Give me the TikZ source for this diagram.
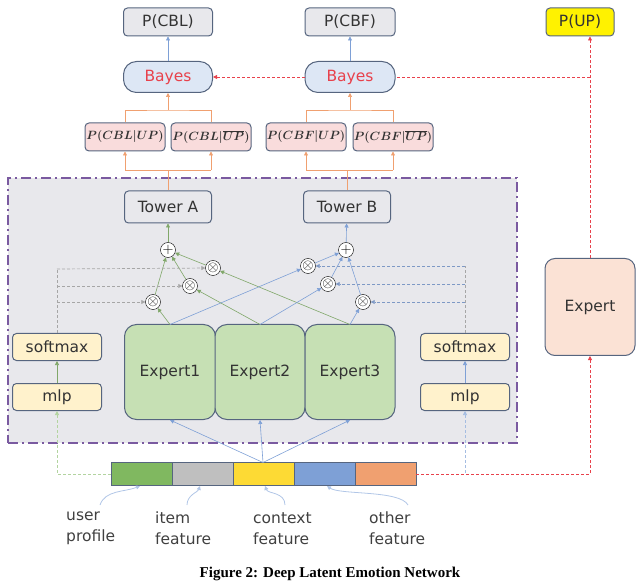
\documentclass[tikz,border=0pt]{standalone}
\usepackage{fontspec}
\setmainfont{Liberation Serif}
\newfontfamily\mysf{DejaVu Sans}
\usetikzlibrary{arrows.meta}
\definecolor{bx}{HTML}{E8E8EC}
\definecolor{bord}{HTML}{56657F}
\definecolor{bfill}{HTML}{DDE7F5}
\definecolor{rd}{HTML}{E8414B}
\definecolor{pk}{HTML}{F9DCDC}
\definecolor{og}{HTML}{F0A070}
\definecolor{gr}{HTML}{C6E0B4}
\definecolor{gl}{HTML}{80B860}
\definecolor{bl}{HTML}{7EA0D6}
\definecolor{ye}{HTML}{FFF2CC}
\definecolor{pe}{HTML}{FBE2D5}
\definecolor{pu}{HTML}{7A5AA0}
\begin{document}
\begin{tikzpicture}[x=1pt,y=-1pt,
 box/.style={draw=bord,line width=1pt,rounded corners=4pt,minimum height=28pt,font=\mysf\fontsize{15.5}{15.5}\selectfont,inner sep=0,text=black!80},
 cond/.style={box,fill=pk,minimum width=80pt,font=\fontsize{12}{12}\selectfont\boldmath},
 ot/.style={circle,draw=black,fill=white,inner sep=0,minimum size=15pt,font=\fontsize{14}{14}\selectfont},
 gline/.style={draw=gl!70!gray,-{Triangle[length=4pt,width=4pt]},line width=0.6pt},
 bline/.style={draw=bl,-{Triangle[length=4pt,width=4pt]},line width=0.6pt},
 oline/.style={draw=og,line width=0.7pt},
 rdl/.style={densely dashed,draw=rd,line width=0.8pt}]
\useasboundingbox (0,0) rectangle (640,585);
% frame
\node[draw=pu,dash pattern=on 10pt off 4pt on 2pt off 4pt,line width=1.3pt,fill=bx,minimum width=509pt,minimum height=265pt,inner sep=0] (frame) at (262.5,310.5) {};
% top
\node[box,fill=bx,minimum width=89pt] (pcbl) at (168,22) {P(CBL)};
\node[box,fill=bx,minimum width=90pt] (pcbf) at (350,22) {P(CBF)};
\node[box,fill=yellow,minimum width=68pt] (pup) at (580,22) {P(UP)};
\node[box,fill=bfill,rounded corners=13pt,minimum width=89pt,minimum height=31pt,text=rd] (bay1) at (168,77) {Bayes};
\node[box,fill=bfill,rounded corners=13pt,minimum width=90pt,minimum height=31pt,text=rd] (bay2) at (350,77) {Bayes};
\node[cond] (c1) at (125,137) {$P(CBL|UP)$};
\node[cond] (c2) at (211,137) {$P(CBL|\overline{UP})$};
\node[cond] (c3) at (306,137) {$P(CBF|UP)$};
\node[cond] (c4) at (393,137) {$P(CBF|\overline{UP})$};
\draw[bline] (bay1) -- (pcbl);
\draw[bline] (bay2) -- (pcbf);
% towers
\node[box,fill=bx,minimum width=87pt,minimum height=32pt] (ta) at (168,207) {Tower A};
\node[box,fill=bx,minimum width=87pt,minimum height=32pt] (tb) at (347,207) {Tower B};
% orange
\foreach \b/\l/\r/\t in {bay1/c1/c2/ta,bay2/c3/c4/tb}{
 \draw[oline] (\l.north) |- (\b.south|-0,110) -| (\r.north);
 \draw[oline,-{Triangle[length=4pt,width=4pt]}] (\b.south|-0,110) -- (\b.south);
 \draw[oline] (\t.north) -- (\t.north|-0,170);
 \draw[oline,-{Triangle[length=4pt,width=4pt]}] (\l.south|-0,170) -- (\l.south);
 \draw[oline,-{Triangle[length=4pt,width=4pt]}] (\r.south|-0,170) -- (\r.south);
 \draw[oline] (\l.south|-0,170) -- (\r.south|-0,170);
}
% experts
\node[box,fill=gr,rounded corners=12pt,minimum width=91pt,minimum height=95pt] (e1) at (170,372) {Expert1};
\node[box,fill=gr,rounded corners=12pt,minimum width=90pt,minimum height=95pt] (e2) at (260,372) {Expert2};
\node[box,fill=gr,rounded corners=12pt,minimum width=90pt,minimum height=95pt] (e3) at (350,372) {Expert3};
\node[box,fill=ye,minimum width=89pt,minimum height=27pt] (sm1) at (57,347) {softmax};
\node[box,fill=ye,minimum width=89pt,minimum height=27pt] (mlp1) at (57,397) {mlp};
\node[box,fill=ye,minimum width=89pt,minimum height=27pt] (sm2) at (465,347) {softmax};
\node[box,fill=ye,minimum width=89pt,minimum height=27pt] (mlp2) at (465,397) {mlp};
\node[box,fill=pe,rounded corners=10pt,minimum width=90pt,minimum height=97pt] (ex) at (590,307) {Expert};
% ops
\node[ot] (pa) at (168,250) {$+$};
\node[ot] (pb) at (346,250) {$+$};
\node[ot] (l1) at (153,302) {$\otimes$};
\node[ot] (l2) at (190,286) {$\otimes$};
\node[ot] (l3) at (213,268) {$\otimes$};
\node[ot] (r1) at (308,266) {$\otimes$};
\node[ot] (r2) at (328,284) {$\otimes$};
\node[ot] (r3) at (363,302) {$\otimes$};
\coordinate (t1) at (170,324.5);
\coordinate (t2) at (260,324.5);
\coordinate (t3) at (350,324.5);
\draw[gline] (t1) -- (l1); \draw[gline] (t2) -- (l2); \draw[gline] (t3) -- (l3);
\draw[gline] (l1) -- (pa); \draw[gline] (l2) -- (pa); \draw[gline] (l3) -- (pa);
\draw[gline] (pa) -- (ta);
\draw[bline] (t1) -- (r1); \draw[bline] (t2) -- (r2); \draw[bline] (t3) -- (r3);
\draw[bline] (r1) -- (pb); \draw[bline] (r2) -- (pb); \draw[bline] (r3) -- (pb);
\draw[bline] (pb) -- (tb);
% gates
\draw[gline] (mlp1) -- (sm1);
\draw[bline] (mlp2) -- (sm2);
\tikzset{gd/.style={dash pattern=on 3pt off 2pt,line width=0.7pt}}
\draw[gd,draw=gray!70] (sm1.north) -- (57,269);
\draw[gd,draw=gray!70,-{Triangle[length=4pt,width=4pt]}] (57,269) -- (l3);
\draw[gd,draw=gray!70,-{Triangle[length=4pt,width=4pt]}] (57,286) -- (l2);
\draw[gd,draw=gray!70,-{Triangle[length=4pt,width=4pt]}] (57,302) -- (l1);
\draw[gd,draw=gray!70] (sm2.north) -- (465,266);
\draw[gd,draw=bl!80!gray,-{Triangle[length=4pt,width=4pt]}] (465,266) -- (r1);
\draw[gd,draw=bl!80!gray,-{Triangle[length=4pt,width=4pt]}] (465,284) -- (r2);
\draw[gd,draw=bl!80!gray,-{Triangle[length=4pt,width=4pt]}] (465,302) -- (r3);
% feature bar
\foreach \i/\c in {0/gl,1/gray!50,2/yellow!70!orange!80,3/bl,4/og}{
 \node[draw=bord,line width=0.8pt,fill=\c,minimum width=61pt,minimum height=23pt,inner sep=0] (f\i) at (141.5+61*\i,474) {};
}
\coordinate (fc) at (263,462.5);
\draw[bline] (fc) -- (e1.south); \draw[bline] (fc) -- (e2.south); \draw[bline] (fc) -- (e3.south);
\draw[gd,draw=gl!60,-{Triangle[length=4pt,width=4pt]}] (f0.west) -| (mlp1.south);
\draw[gd,draw=bl!70,-{Triangle[length=4pt,width=4pt]}] (f4.east) -| (mlp2.south);
\draw[rdl,-{Triangle[length=4pt,width=4pt]}] (f4.east) -| (ex.south);
\draw[rdl,-{Triangle[length=4pt,width=4pt]}] (ex.north) -- (pup.south-|ex.north);
\draw[rdl] (590,77) -- (bay2.east);
\draw[rdl,-{Triangle[length=4pt,width=4pt]}] (bay2.west) -- (bay1.east);
% labels
\tikzset{lab/.style={align=left,font=\mysf\fontsize{15.5}{21}\selectfont,text=black!75,anchor=north west,inner sep=0}}
\node[lab] (u) at (66,512) {user\\profile};
\node[lab] (it) at (155,512) {item\\feature};
\node[lab] (co) at (253,512) {context\\feature};
\node[lab] (ot) at (369,512) {other\\feature};
\draw[bline,bl!60,line width=0.8pt] (100,505) .. controls (105,490) and (125,492) .. (140,486);
\draw[bline,bl!60,line width=0.8pt] (187,505) .. controls (187,495) and (198,492) .. (200,486);
\draw[bline,bl!60,line width=0.8pt] (285,505) .. controls (285,492) and (268,494) .. (265,486);
\draw[bline,bl!60,line width=0.8pt] (408,505) .. controls (400,490) and (340,495) .. (327,486);
\node[font=\bfseries\fontsize{15}{15}\selectfont] (cap) at (330,574) {Figure 2: Deep Latent Emotion Network};
\end{tikzpicture}
\end{document}
